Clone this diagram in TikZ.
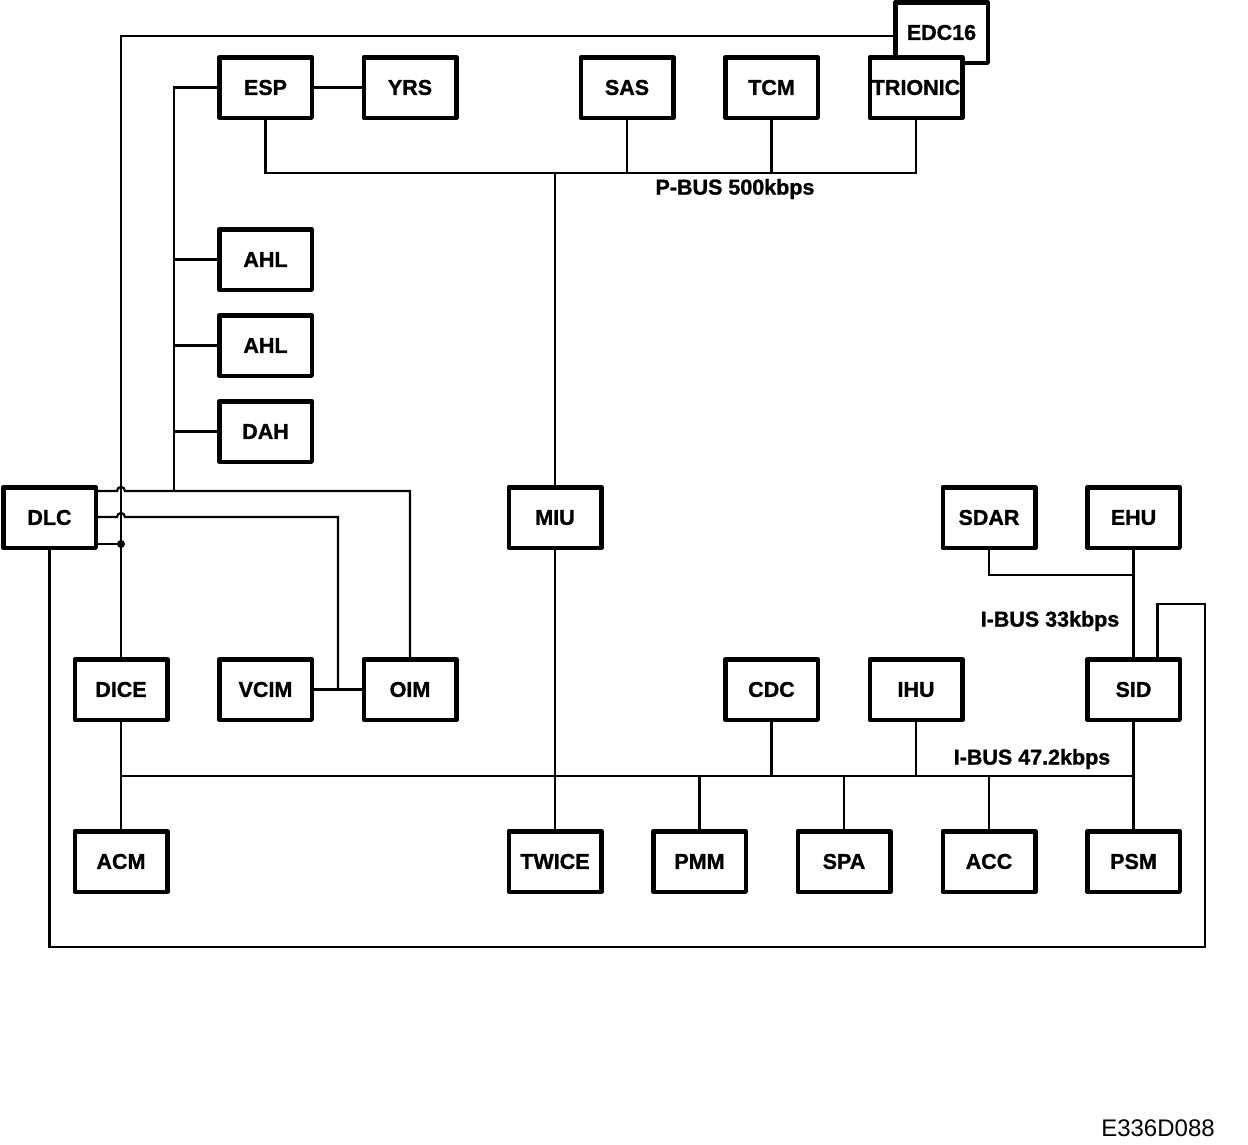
\documentclass[tikz,border=0pt]{standalone}
\usepackage{fontspec}
\setmainfont{Liberation Sans}
\newfontfamily\heavy[FakeBold=1.2]{Liberation Sans Bold}
\begin{document}
\begin{tikzpicture}[x=1pt,y=-1pt,
  box/.style={draw,line width=4.5pt,line join=round,fill=white,minimum width=92.5pt,minimum height=60.5pt,inner sep=0pt,font=\fontsize{21.5}{24}\selectfont\heavy},
  wire/.style={line width=2.2pt},
  lbl/.style={font=\fontsize{21.5}{24}\selectfont\heavy,inner sep=0pt}]
\useasboundingbox[fill=white] (0,0) rectangle (1248,1144);
% boxes
\node[box] (EDC16) at (941.5,32.5) {EDC16};
\node[box] (ESP) at (265.5,87.5) {ESP};
\node[box] (YRS) at (410,87.5) {YRS};
\node[box] (SAS) at (627,87.5) {SAS};
\node[box] (TCM) at (771.5,87.5) {TCM};
\node[box] (TRIONIC) at (916,87.5) {TRIONIC};
\node[box] (AHLa) at (265.5,259.5) {AHL};
\node[box] (AHLb) at (265.5,345.5) {AHL};
\node[box] (DAH) at (265.5,431.5) {DAH};
\node[box] (DLC) at (49.5,517.5) {DLC};
\node[box] (MIU) at (555,517.5) {MIU};
\node[box] (SDAR) at (989,517.5) {SDAR};
\node[box] (EHU) at (1133.5,517.5) {EHU};
\node[box] (DICE) at (121,689.5) {DICE};
\node[box] (VCIM) at (265.5,689.5) {VCIM};
\node[box] (OIM) at (410,689.5) {OIM};
\node[box] (CDC) at (771.5,689.5) {CDC};
\node[box] (IHU) at (916,689.5) {IHU};
\node[box] (SID) at (1133.5,689.5) {SID};
\node[box] (ACM) at (121,861.5) {ACM};
\node[box] (TWICE) at (555,861.5) {TWICE};
\node[box] (PMM) at (699.5,861.5) {PMM};
\node[box] (SPA) at (844,861.5) {SPA};
\node[box] (ACC) at (989,861.5) {ACC};
\node[box] (PSM) at (1133.5,861.5) {PSM};
% labels
\node[lbl] (pbuslbl) at (735,189) {P-BUS 500kbps};
\node[lbl] (ibusa) at (1050,621) {I-BUS 33kbps};
\node[lbl] (ibusb) at (1032,759) {I-BUS 47.2kbps};
\node[font=\fontsize{24}{26}\selectfont,inner sep=0pt] (code) at (1158,1128) {E336D088};
% coordinates
\coordinate (pbus) at (0,173);
\coordinate (ibus) at (0,776);
\coordinate (ibs) at (0,575);
\coordinate (ex) at (174,0);
% wires
\draw[wire] (EDC16.west |- 0,36) -| (DICE.north);
\fill (121,544) circle (4pt);
\draw[wire] (DLC.east |- 0,491) -- (117,491) arc[start angle=180,end angle=0,radius=4pt] -- (410,491) -- (OIM.north);
\draw[wire] (DLC.east |- 0,517) -- (117,517) arc[start angle=180,end angle=0,radius=4pt] -- (338,517) -- (338,689.5);
\draw[wire] (DLC.east |- 0,544) -- (121,544);
\draw[wire] (VCIM.east) -- (OIM.west);
\draw[wire] (ESP.west) -| (174,491);
\draw[wire] (AHLa.west) -- (ex |- AHLa.west);
\draw[wire] (AHLb.west) -- (ex |- AHLb.west);
\draw[wire] (DAH.west) -- (ex |- DAH.west);
\draw[wire] (ESP.east) -- (YRS.west);
\draw[wire] (ESP.south) |- (TRIONIC.south |- pbus) -- (TRIONIC.south);
\draw[wire] (SAS.south) -- (SAS.south |- pbus);
\draw[wire] (TCM.south) -- (TCM.south |- pbus);
\draw[wire] (MIU.north) -- (MIU.north |- pbus);
\draw[wire] (MIU.south) -- (TWICE.north);
\draw[wire] (DICE.south) -- (ACM.north);
\draw[wire] (DICE.south |- ibus) -- (SID.south |- ibus);
\draw[wire] (SID.south) -- (PSM.north);
\draw[wire] (CDC.south) -- (CDC.south |- ibus);
\draw[wire] (IHU.south) -- (IHU.south |- ibus);
\draw[wire] (PMM.north) -- (PMM.north |- ibus);
\draw[wire] (SPA.north) -- (SPA.north |- ibus);
\draw[wire] (ACC.north) -- (ACC.north |- ibus);
\draw[wire] (SDAR.south) |- (EHU.south |- ibs);
\draw[wire] (EHU.south) -- (SID.north);
\draw[wire] (DLC.south) |- (1205,947) |- (1157.5,604) -- ([xshift=24pt]SID.north);
\end{tikzpicture}
\end{document}
